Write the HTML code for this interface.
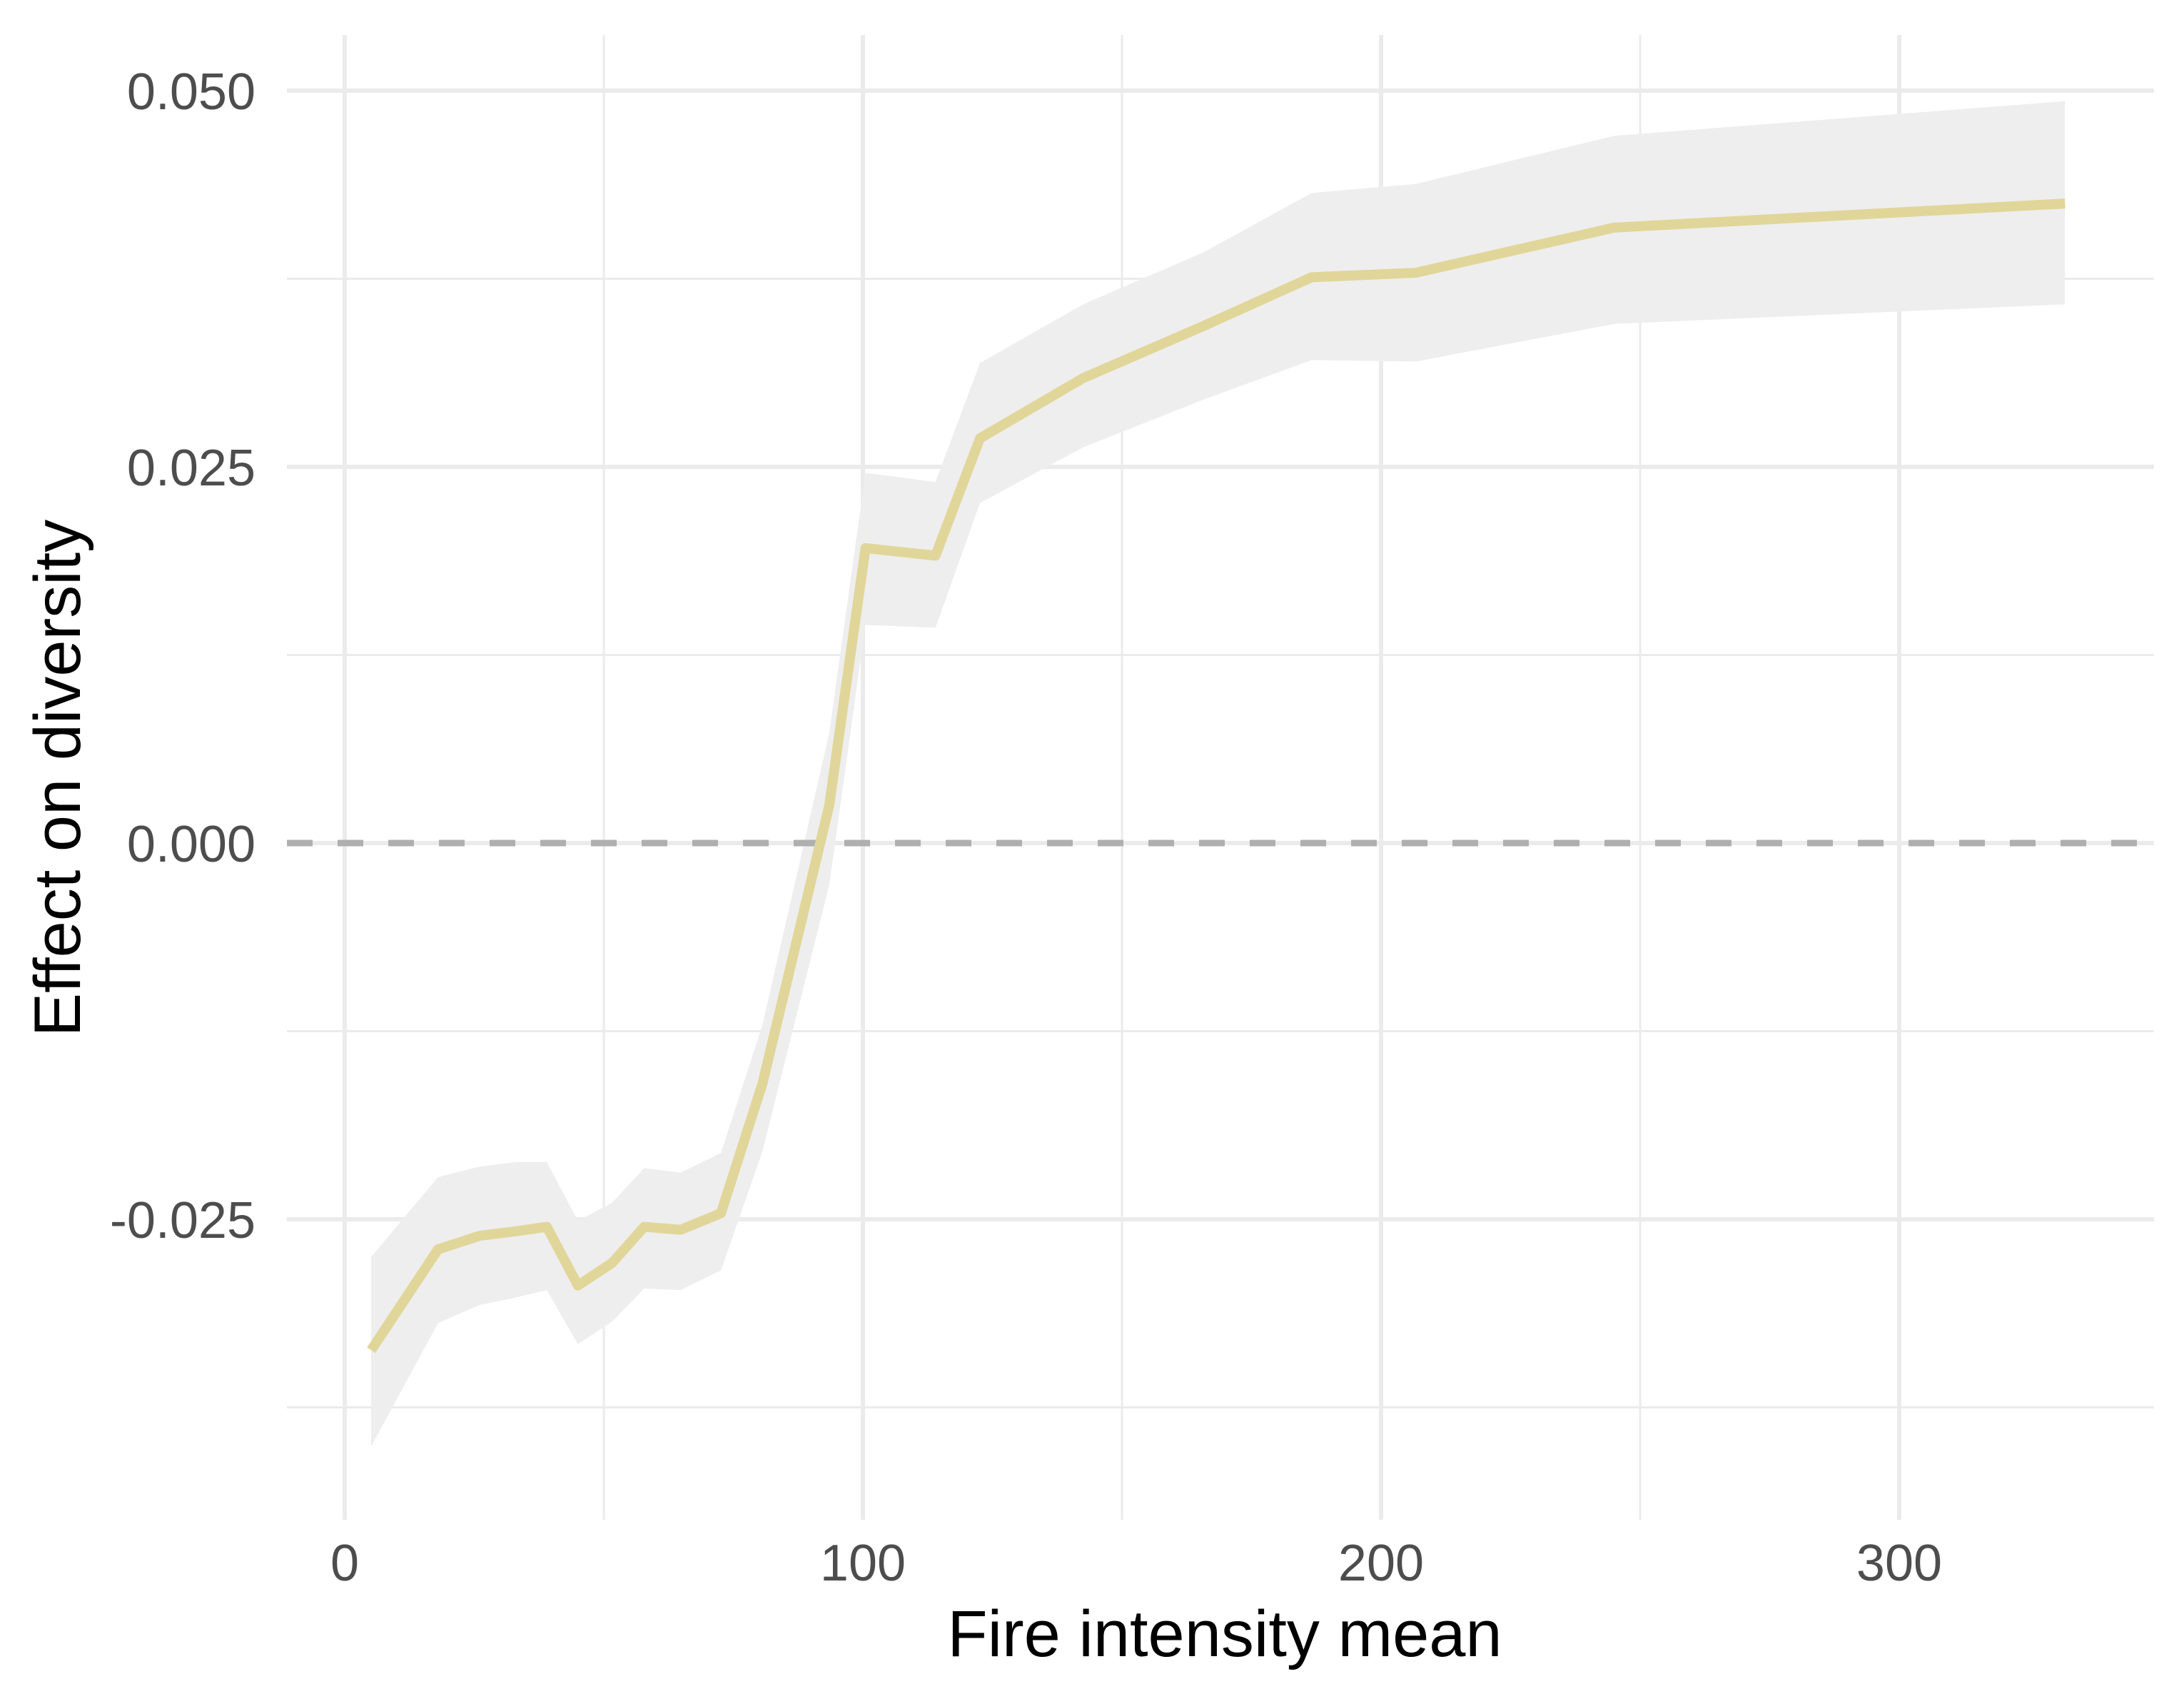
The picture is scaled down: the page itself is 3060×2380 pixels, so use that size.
<!DOCTYPE html>
<html><head><meta charset="utf-8"><style>
html,body{margin:0;padding:0;background:#fff;}
svg{display:block;font-family:"Liberation Sans",Arial,sans-serif;}
</style></head><body>
<svg id="chart" width="3060" height="2380" viewBox="0 0 3060 2380" xmlns="http://www.w3.org/2000/svg">
<rect width="3060" height="2380" fill="#ffffff"/>
<g id="grid"></g>
<g id="ribbon-g"></g>
<g id="ref-g"></g>
<g id="line-g"></g>
<g id="ticks"></g>
<text x="1716" y="2320" font-size="92" fill="#000" text-anchor="middle">Fire intensity mean</text>
<text x="0" y="0" transform="translate(112,1090) rotate(-90)" font-size="92" fill="#000" text-anchor="middle">Effect on diversity</text>
</svg>
<script>
const xVals=[5.1,18,26,33,39,45,51.6,57.8,64.8,72.6,80.6,93.5,100.5,114,122.6,142.5,166,186.6,206.7,245,332];
const yVals=[-0.0337,-0.0270,-0.0261,-0.0258,-0.0255,-0.0294,-0.0279,-0.0255,-0.0257,-0.0246,-0.0160,0.0025,0.0196,0.0191,0.0269,0.0309,0.0344,0.0376,0.0379,0.0409,0.0425];
const upperVals=[-0.0275,-0.0222,-0.0215,-0.0212,-0.0212,-0.0251,-0.0239,-0.0216,-0.0219,-0.0206,-0.0121,0.0073,0.0246,0.0240,0.0319,0.0358,0.0393,0.0432,0.0438,0.0470,0.0493];
const lowerVals=[-0.0401,-0.0319,-0.0307,-0.0302,-0.0297,-0.0333,-0.0318,-0.0296,-0.0297,-0.0284,-0.0205,-0.0028,0.0145,0.0143,0.0226,0.0263,0.0295,0.0321,0.0320,0.0345,0.0358];
const xMajor=[0,100,200,300];
const xMinor=[50,150,250];
const yMajor=[-0.025,0,0.025,0.05];
const yMajorLabels=["-0.025","0.000","0.025","0.050"];
const yMinor=[-0.0375,-0.0125,0.0125,0.0375];

const NS="http://www.w3.org/2000/svg";
const L=402,R=3018,T=49,B=2129;
function sx(v){return 483+7.26*v;}
function sy(v){return 1181-v*(1054/0.05);}
function mk(tag,attrs,parent){const e=document.createElementNS(NS,tag);for(const k in attrs)e.setAttribute(k,attrs[k]);parent.appendChild(e);return e;}
const grid=document.getElementById('grid');
yMinor.forEach(v=>{const e=mk('line',{x1:L,x2:R,y1:sy(v),y2:sy(v),stroke:'#ebebeb','stroke-width':3},grid);

});
xMinor.forEach(v=>{const e=mk('line',{x1:sx(v),x2:sx(v),y1:T,y2:B,stroke:'#ebebeb','stroke-width':3},grid);

});
yMajor.forEach(v=>{const e=mk('line',{x1:L,x2:R,y1:sy(v),y2:sy(v),stroke:'#ebebeb','stroke-width':6},grid);

});
xMajor.forEach(v=>{const e=mk('line',{x1:sx(v),x2:sx(v),y1:T,y2:B,stroke:'#ebebeb','stroke-width':6},grid);

});
let pts=xVals.map((x,i)=>sx(x)+','+sy(upperVals[i]));
for(let i=xVals.length-1;i>=0;i--)pts.push(sx(xVals[i])+','+sy(lowerVals[i]));
const rib=mk('polygon',{points:pts.join(' '),fill:'#eeeeee'},document.getElementById('ribbon-g'));


const ref=mk('line',{x1:L,x2:R,y1:sy(0),y2:sy(0),stroke:'#afafaf','stroke-width':9,'stroke-dasharray':'36 35'},document.getElementById('ref-g'));


const ln=mk('polyline',{points:xVals.map((x,i)=>sx(x)+','+sy(yVals[i])).join(' '),fill:'none',stroke:'#e1d699','stroke-width':14,'stroke-linejoin':'round'},document.getElementById('line-g'));


const ticks=document.getElementById('ticks');
yMajor.forEach((v,i)=>{const t=mk('text',{x:358,y:sy(v)+26,'font-size':72,fill:'#4d4d4d','text-anchor':'end'},ticks);t.textContent=yMajorLabels[i];

});
xMajor.forEach(v=>{const t=mk('text',{x:sx(v),y:2214,'font-size':72,fill:'#4d4d4d','text-anchor':'middle'},ticks);t.textContent=String(v);

});
</script>
</body></html>
